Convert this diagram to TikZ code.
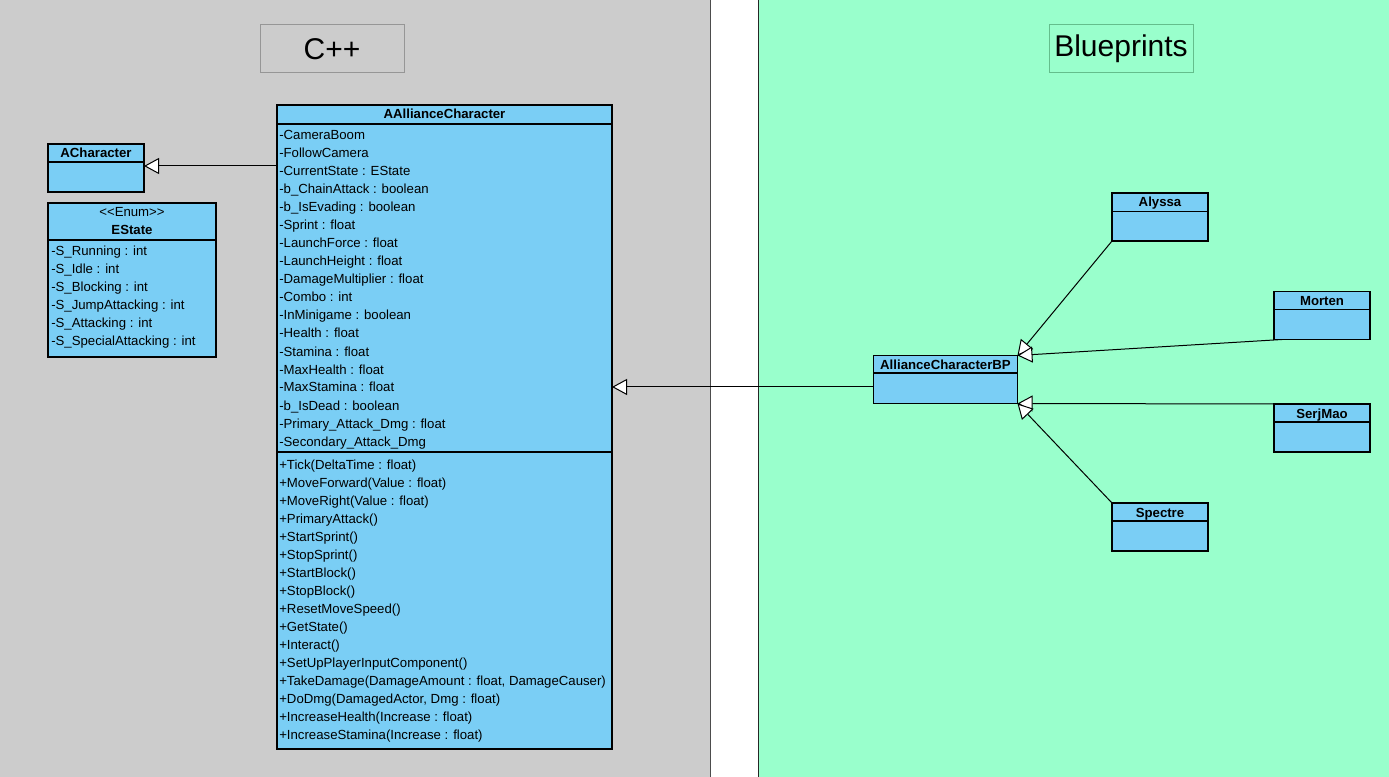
\documentclass[tikz,border=0pt]{standalone}
\usepackage{fontspec}
\setmainfont{Liberation Sans}
\usetikzlibrary{arrows.meta}
\definecolor{bggray}{RGB}{204,204,204}
\definecolor{bggreen}{RGB}{153,255,204}
\definecolor{boxfill}{RGB}{122,206,245}
\definecolor{titlegray}{RGB}{150,150,150}
\definecolor{titlegreen}{RGB}{100,190,140}
\tikzset{
  cls/.style={draw=black, fill=boxfill, line width=0.9pt, rectangle, inner sep=0pt, outer sep=0pt, anchor=north west},
  ttl/.style={font=\fontsize{9.9pt}{12pt}\selectfont\bfseries, anchor=base, inner sep=0pt},
  stereo/.style={font=\fontsize{9.9pt}{12pt}\selectfont, anchor=base, inner sep=0pt},
  attr/.style={font=\fontsize{9.9pt}{12pt}\selectfont, anchor=base west, inner sep=0pt},
  sect/.style={draw=black, line width=0.9pt},
  inh/.style={draw=black, line width=0.75pt, -{Triangle[length=11.25pt,width=12pt,fill=white]}},
  bigtitle/.style={rectangle, line width=0.75pt, minimum width=144*0.75pt, minimum height=48*0.75pt, inner sep=0pt, outer sep=0pt, font=\fontsize{22.5pt}{26pt}\selectfont}
}
\begin{document}
\begin{tikzpicture}[x=0.75pt,y=-0.75pt]
\useasboundingbox (0,0) rectangle (1389,777);
% panels
\fill[white] (0,0) rectangle (1389,777);
\fill[bggray] (0,0) rectangle (710,777);
\fill[bggreen] (758,0) rectangle (1389,777);
\draw[line width=0.75pt, black!70] (710,0) -- (710,777);
\draw[line width=0.75pt, black!85] (758,0) -- (758,777);

% panel titles
\node[bigtitle, draw=titlegray] (cpp) at (332,49) {C++};
\node[bigtitle, draw=titlegreen] (bptitle) at (1121,49) {Blueprints};

% ACharacter
\node[cls, minimum width=96*0.75pt, minimum height=48*0.75pt] (achar) at (48,144) {};
\draw[sect] (48,162) -- (144,162);
\node[ttl] (acharT) at (96,158) {ACharacter};

% EState
\node[cls, minimum width=168*0.75pt, minimum height=154*0.75pt] (estate) at (48,203) {};
\draw[sect] (48,240) -- (216,240);
\node[stereo] (estateS) at (132,216.5) {<\kern0pt<Enum>\kern0pt>};
\node[ttl] (estateT) at (132,234.5) {EState};
\foreach \t [count=\i from 0] in {{-S\_Running : int},{-S\_Idle : int},{-S\_Blocking : int},{-S\_JumpAttacking : int},{-S\_Attacking : int},{-S\_SpecialAttacking : int}}
  \node[attr] (es\i) at (51,256+18*\i) {\t};

% AAllianceCharacter
\node[cls, minimum width=335*0.75pt, minimum height=644*0.75pt] (aac) at (277,105) {};
\draw[sect] (277,124) -- (612,124);
\draw[sect] (277,452) -- (612,452);
\node[ttl] (aacT) at (444.5,119) {AAllianceCharacter};
\foreach \t [count=\i from 0] in {{-CameraBoom},{-FollowCamera},{-CurrentState : EState},{-b\_ChainAttack : boolean},{-b\_IsEvading : boolean},{-Sprint : float},{-LaunchForce : float},{-LaunchHeight : float},{-DamageMultiplier : float},{-Combo : int},{-InMinigame : boolean},{-Health : float},{-Stamina : float},{-MaxHealth : float},{-MaxStamina : float},{-b\_IsDead : boolean},{-Primary\_Attack\_Dmg : float},{-Secondary\_Attack\_Dmg}}
  \node[attr] (aa\i) at (279,140+18*\i) {\t};
\foreach \t [count=\i from 0] in {{+Tick(DeltaTime : float)},{+MoveForward(Value : float)},{+MoveRight(Value : float)},{+PrimaryAttack()},{+StartSprint()},{+StopSprint()},{+StartBlock()},{+StopBlock()},{+ResetMoveSpeed()},{+GetState()},{+Interact()},{+SetUpPlayerInputComponent()},{+TakeDamage(DamageAmount : float, DamageCauser)},{+DoDmg(DamagedActor, Dmg : float)},{+IncreaseHealth(Increase : float)},{+IncreaseStamina(Increase : float)}}
  \node[attr] (ao\i) at (279,469+18*\i) {\t};

% AllianceCharacterBP
\node[cls, minimum width=144*0.75pt, minimum height=48*0.75pt] (bp) at (873.5,355.5) {};
\draw[sect] (873.5,373) -- (1017.5,373);
\node[ttl] (bpT) at (945.5,369) {AllianceCharacterBP};

% Alyssa
\node[cls, minimum width=96*0.75pt, minimum height=48*0.75pt] (alyssa) at (1112,193) {};
\draw[sect] (1112,211.5) -- (1208,211.5);
\node[ttl] (alyssaT) at (1160,207) {Alyssa};

% Morten
\node[cls, minimum width=96*0.75pt, minimum height=48*0.75pt] (morten) at (1274,291.5) {};
\draw[sect] (1274,309.5) -- (1370,309.5);
\node[ttl] (mortenT) at (1322,305.5) {Morten};

% SerjMao
\node[cls, minimum width=96*0.75pt, minimum height=48*0.75pt] (serj) at (1274,404) {};
\draw[sect] (1274,422) -- (1370,422);
\node[ttl] (serjT) at (1322,418) {SerjMao};

% Spectre
\node[cls, minimum width=96*0.75pt, minimum height=48*0.75pt] (spectre) at (1112,503) {};
\draw[sect] (1112,521) -- (1208,521);
\node[ttl] (spectreT) at (1160,517) {Spectre};

% generalizations
\draw[inh] ([yshift=1.5pt]aac.west |- achar.east) -- ([yshift=1.5pt]achar.east);
\coordinate (bpl) at ([yshift=-5.6pt]bp.west);
\draw[inh] (bpl) -- (aac.east |- bpl);
\draw[inh] (alyssa.south west) -- (bp.north east);
\draw[inh] ([xshift=6pt]morten.south west) -- (bp.north east);
\draw[inh] (serj.north west) -- (bp.south east);
\draw[inh] (spectre.north west) -- (bp.south east);
\end{tikzpicture}
\end{document}
